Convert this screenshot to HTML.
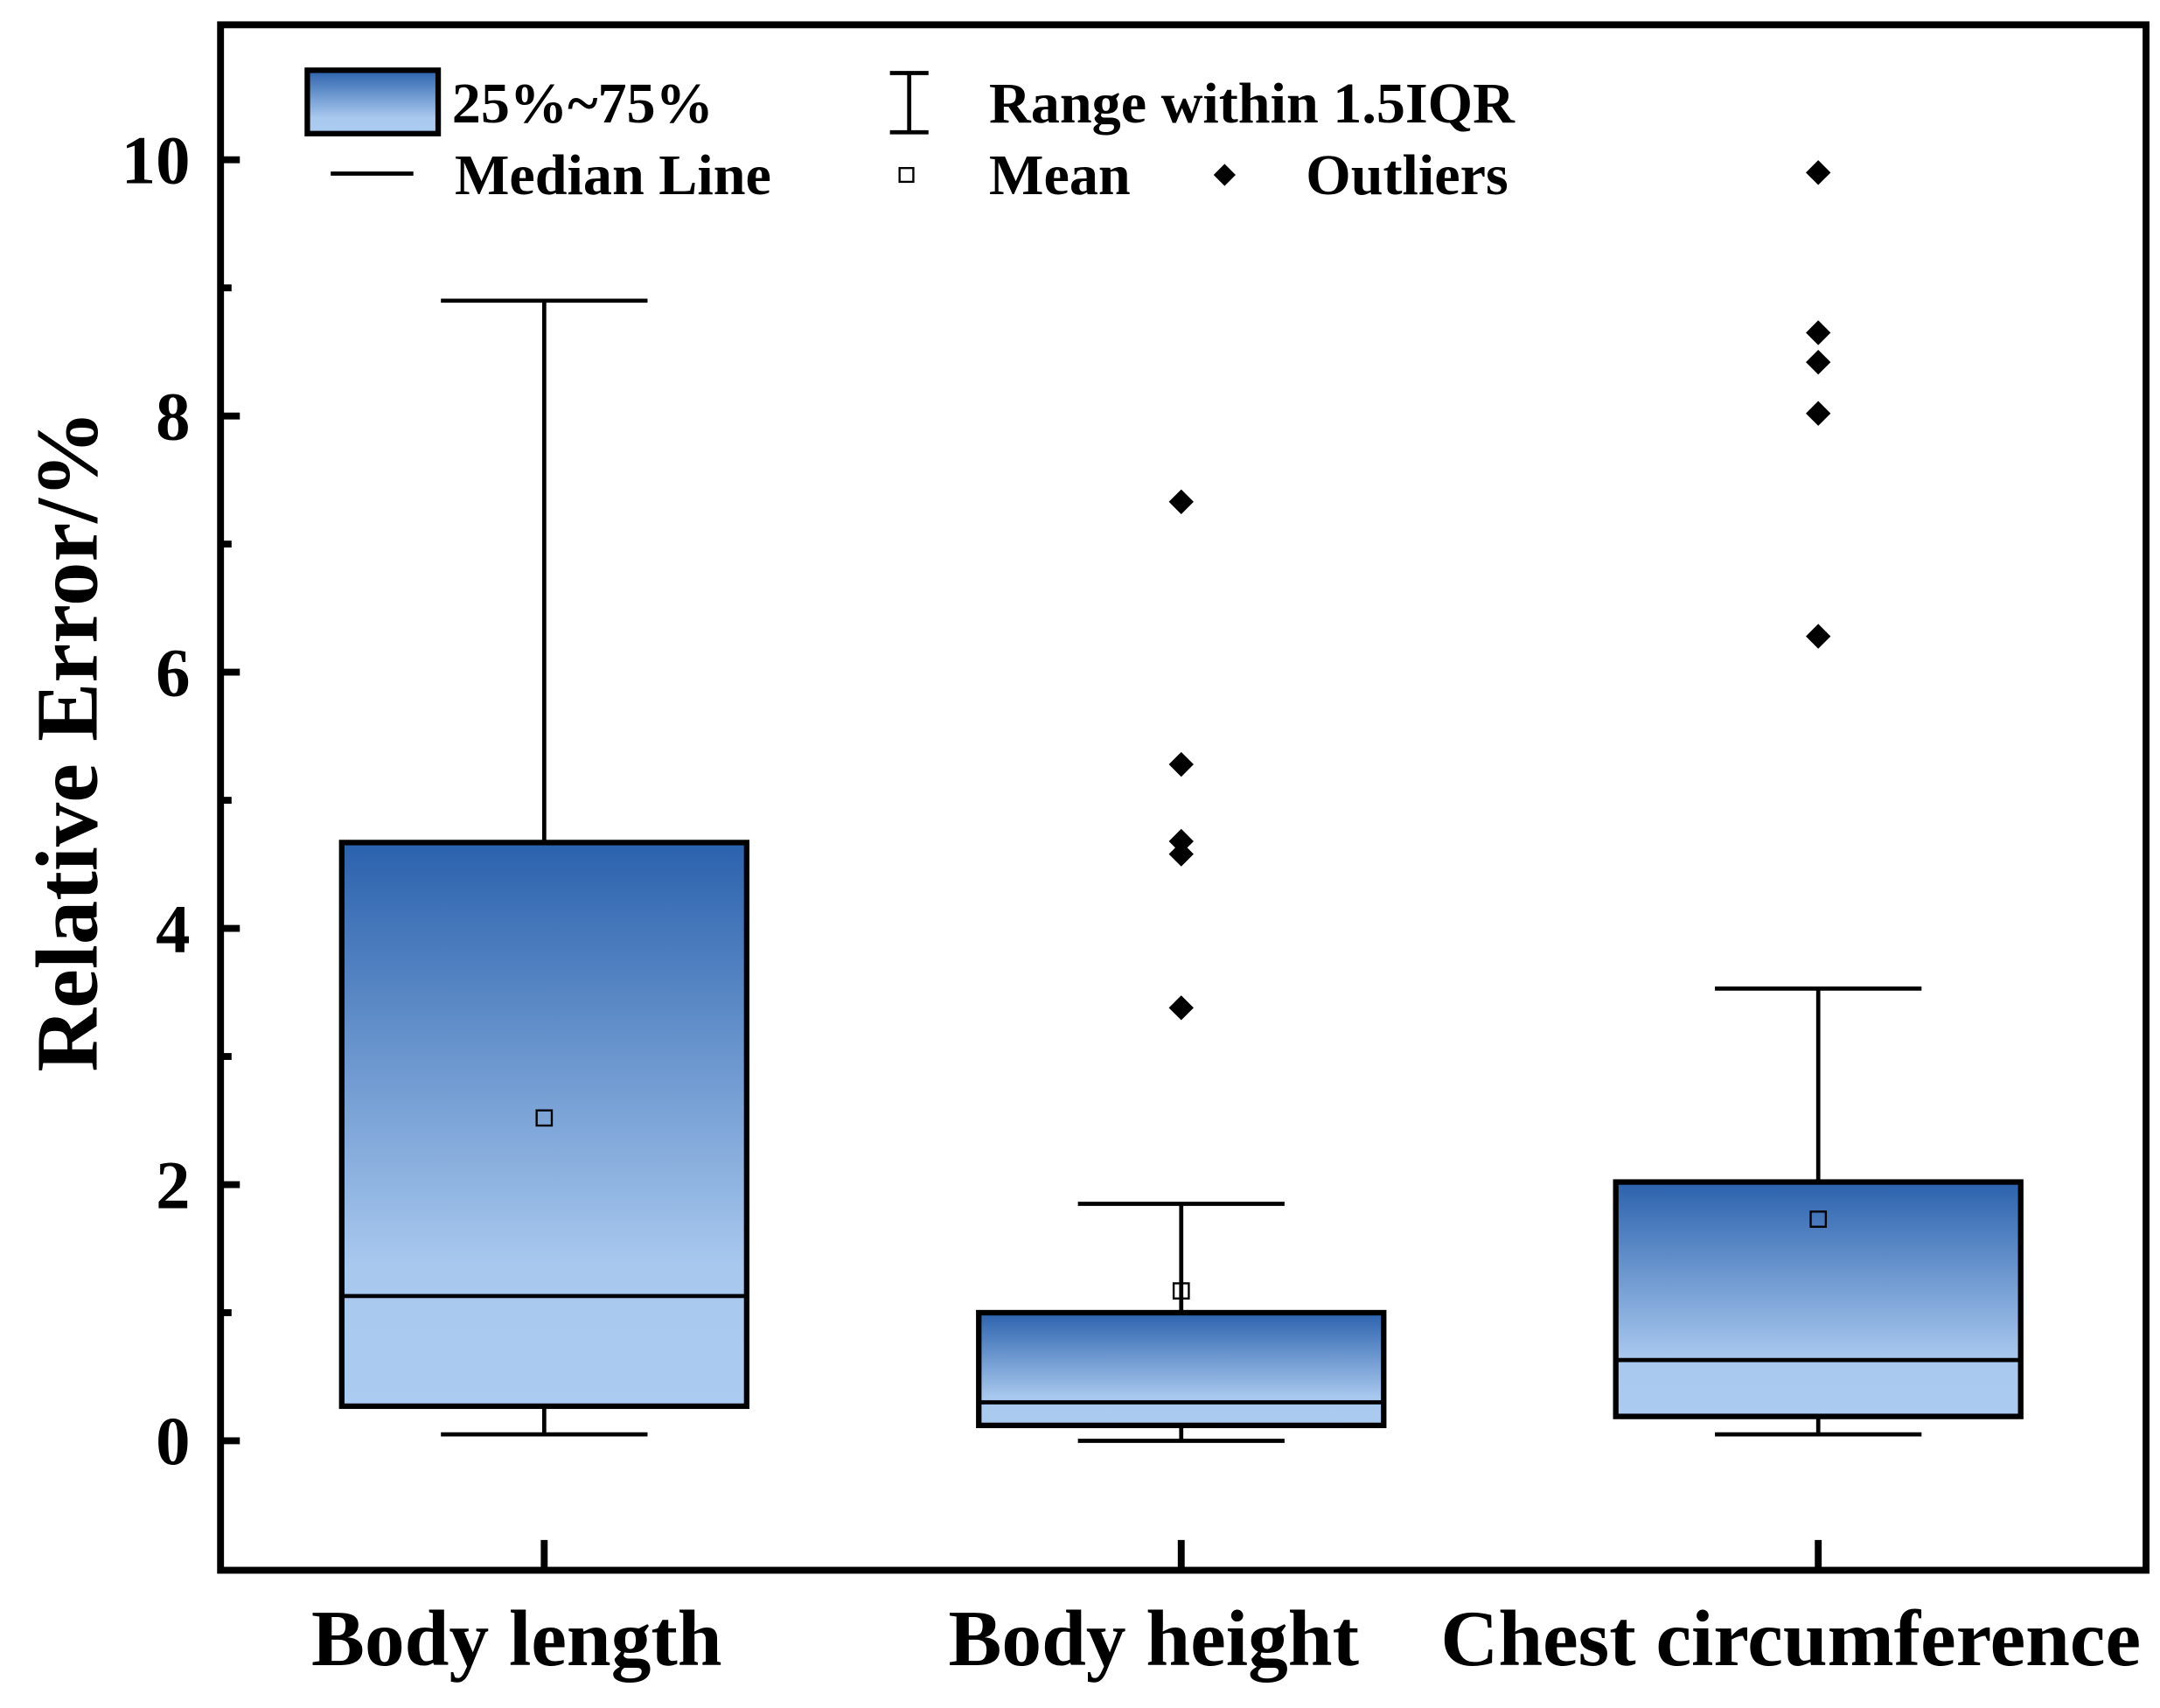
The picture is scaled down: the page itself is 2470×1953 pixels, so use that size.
<!DOCTYPE html>
<html><head><meta charset="utf-8"><style>
html,body{margin:0;padding:0;background:#fff}
svg{display:block}
text{font-family:"Liberation Serif","DejaVu Serif",serif;font-weight:bold;fill:#000}
</style></head><body>
<svg id="chart" width="2470" height="1953" viewBox="0 0 1568 1240" xmlns="http://www.w3.org/2000/svg">
<defs>
<linearGradient id="g" x1="0" y1="0" x2="0" y2="1">
<stop offset="0" stop-color="#2b62ad"/><stop offset="0.75" stop-color="#a8c8ee"/><stop offset="1" stop-color="#abcbf0"/>
</linearGradient>
</defs>
<rect width="1568" height="1240" fill="#fff"/>
<g id="plot"></g>
<rect x="160" y="18" width="1398" height="1122" fill="none" stroke="#000" stroke-width="5"/>
<text transform="translate(70,538) rotate(-90)" text-anchor="middle" font-size="64">Relative Error/%</text>
<g>
<rect x="223" y="51" width="95" height="46" fill="url(#g)" stroke="#000" stroke-width="4"/>
<text x="328" y="89" font-size="42">25%~75%</text>
<line x1="240" y1="126" x2="300" y2="126" stroke="#000" stroke-width="3"/>
<text x="330" y="141" font-size="42">Median Line</text>
<path d="M646 53H674M660 53V96M646 96H674" stroke="#000" stroke-width="3" fill="none"/>
<text x="718" y="89" font-size="42">Range within 1.5IQR</text>
<rect x="653" y="122" width="10" height="10" fill="#fff" stroke="#000" stroke-width="1.5"/>
<text x="718" y="141" font-size="42">Mean</text>
<path d="M889 119L897 127L889 135L881 127Z" fill="#000"/>
<text x="948" y="141" font-size="42">Outliers</text>
</g>
</svg>
<script>
const categories=["Body length","Body height","Chest circumference"];
const whiskerHigh=[8.9,1.85,3.53];
const q3=[4.67,1.0,2.02];
const medians=[1.13,0.3,0.63];
const q1=[0.27,0.12,0.19];
const whiskerLow=[0.05,0.0,0.05];
const means=[2.52,1.17,1.73];
const outliers=[[],[7.33,5.28,4.68,4.58,3.38],[9.9,8.65,8.42,8.02,6.28]];
const yTicks=[0,2,4,6,8,10];
const yMinor=[1,3,5,7,9];
const NS="http://www.w3.org/2000/svg";
const y=v=>1046-v*93;
const x=i=>395+i*462.5;
const g=document.getElementById('plot');
function mk(t,a){const e=document.createElementNS(NS,t);for(const k in a)e.setAttribute(k,a[k]);g.appendChild(e);return e;}
yTicks.forEach(v=>{
 const t=mk('line',{x1:160,x2:174,y1:y(v),y2:y(v),stroke:'#000','stroke-width':5});
 
 
 const l=mk('text',{x:138,y:y(v)+17,'text-anchor':'end','font-size':50});
 l.textContent=v;
 
 
});
yMinor.forEach(v=>{
 const t=mk('line',{x1:160,x2:168,y1:y(v),y2:y(v),stroke:'#000','stroke-width':5});
 
 
});
categories.forEach((c,i)=>{
 const cx=x(i);
 const t=mk('line',{x1:cx,x2:cx,y1:1118,y2:1140,stroke:'#000','stroke-width':5});
 
 
 const l=mk('text',{x:cx-20,y:1209,'text-anchor':'middle','font-size':58});
 l.textContent=c;
 
 
 const w=mk('path',{d:`M${cx-75} ${y(whiskerHigh[i])}H${cx+75}M${cx} ${y(whiskerHigh[i])}V${y(q3[i])}M${cx} ${y(q1[i])}V${y(whiskerLow[i])}M${cx-75} ${y(whiskerLow[i])}H${cx+75}`,stroke:'#000','stroke-width':3,fill:'none'});
 
 
 const b=mk('rect',{x:cx-147,y:y(q3[i]),width:294,height:y(q1[i])-y(q3[i]),fill:'url(#g)',stroke:'#000','stroke-width':4});
 
 
 const m=mk('line',{x1:cx-147,x2:cx+147,y1:y(medians[i]),y2:y(medians[i]),stroke:'#000','stroke-width':3});
 
 
 const mn=mk('rect',{x:cx-5.5,y:y(means[i])-5.5,width:11,height:11,fill:'none',stroke:'#000','stroke-width':1.5});
 
 
 outliers[i].forEach(v=>{
  const oy=y(v);
  const o=mk('path',{d:`M${cx} ${oy-9}L${cx+9} ${oy}L${cx} ${oy+9}L${cx-9} ${oy}Z`,fill:'#000'});
  
  
 });
});
</script>
</body></html>
